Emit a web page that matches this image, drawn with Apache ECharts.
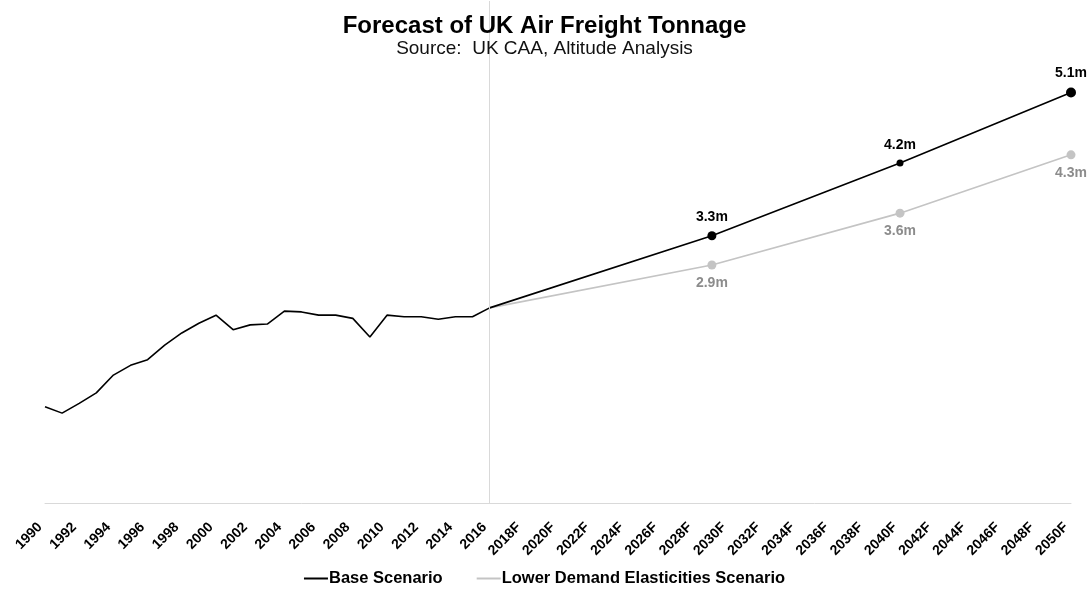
<!DOCTYPE html>
<html>
<head>
<meta charset="utf-8">
<script src="https://cdn.jsdelivr.net/npm/echarts@6/dist/echarts.min.js"></script>
<style>
html,body{margin:0;padding:0;background:#fff;}
#chart{width:1089px;height:594px;}
</style>
</head>
<body>
<div id="chart"></div>
<script>
// Categories
const histYears = [];
for (let y = 1990; y <= 2016; y++) histYears.push(String(y));
const forecastYears = [];
for (let y = 2017; y <= 2050; y++) forecastYears.push(y + 'F');
const categories = histYears.concat(forecastYears);

// Historical tonnage (millions), 1990-2016
const historical = [1.19,1.11,1.23,1.36,1.58,1.70,1.77,1.95,2.10,2.22,2.32,2.14,2.20,2.21,2.37,2.36,2.32,2.32,2.28,2.05,2.32,2.30,2.30,2.27,2.30,2.30,2.41];

// Forecast key points (as placed in the picture)
const forecastPoints = ['2029F','2040F','2050F'];
const baseForecast = [3.30, 4.20, 5.07];
const lowerForecast = [2.94, 3.58, 4.30];
const baseMarkerSizes = [9, 7, 10];
const startYear = '2016';

const FONT = '"Liberation Sans", Arial, sans-serif';

function buildBase() {
  const d = categories.map(() => null);
  historical.forEach((v, i) => { d[i] = v; });
  forecastPoints.forEach((c, k) => {
    const i = categories.indexOf(c);
    d[i] = { value: baseForecast[k], symbol: 'circle', symbolSize: baseMarkerSizes[k], label: { show: true } };
  });
  return d;
}
function buildLower() {
  const d = categories.map(() => null);
  d[categories.indexOf(startYear)] = historical[historical.length - 1];
  forecastPoints.forEach((c, k) => {
    const i = categories.indexOf(c);
    d[i] = { value: lowerForecast[k], symbol: 'circle', symbolSize: 9, label: { show: true } };
  });
  return d;
}

const chart = echarts.init(document.getElementById('chart'));
chart.setOption({
  animation: false,
  backgroundColor: '#fff',
  title: {
    text: 'Forecast of UK Air Freight Tonnage',
    subtext: 'Source:  UK CAA, Altitude Analysis',
    left: 'center',
    top: 9,
    itemGap: 1,
    textStyle: { fontFamily: FONT, fontSize: 24, fontWeight: 'bold', color: '#000' },
    subtextStyle: { fontFamily: FONT, fontSize: 19, color: '#111' }
  },
  legend: {
    bottom: 2,
    left: 'center',
    itemWidth: 24,
    itemHeight: 2,
    itemGap: 34,
    icon: 'rect',
    textStyle: { fontFamily: FONT, fontSize: 16.5, fontWeight: 'bold', color: '#000', padding: [0,0,0,-4] },
    data: ['Base Scenario', 'Lower Demand Elasticities Scenario']
  },
  grid: { left: 45, right: 18, top: 1, bottom: 91, containLabel: false },
  xAxis: {
    type: 'category',
    data: categories,
    boundaryGap: false,
    axisLine: { lineStyle: { color: '#d9d9d9', width: 1 } },
    axisTick: { show: false },
    axisLabel: { interval: 1, rotate: 45, fontFamily: FONT, fontSize: 14, fontWeight: 'bold', color: '#000', margin: 17, padding: [0, 7, 0, 0] }
  },
  yAxis: { type: 'value', min: 0, max: 6.2, show: false, splitLine: { show: false } },
  series: [
    {
      name: 'Base Scenario',
      type: 'line',
      data: buildBase(),
      connectNulls: true,
      symbol: 'none',
      color: '#000',
      lineStyle: { color: '#000', width: 1.6 },
      itemStyle: { color: '#000' },
      label: { show: false, position: 'top', distance: 7, fontFamily: FONT, fontSize: 14, fontWeight: 'bold', color: '#000', formatter: p => p.value.toFixed(1) + 'm' },
      markLine: {
        silent: true, symbol: 'none',
        lineStyle: { color: '#d9d9d9', width: 1, type: 'solid' },
        label: { show: false },
        data: [{ xAxis: startYear }]
      },
      z: 3
    },
    {
      name: 'Lower Demand Elasticities Scenario',
      type: 'line',
      data: buildLower(),
      connectNulls: true,
      symbol: 'none',
      color: '#c4c4c4',
      lineStyle: { color: '#c4c4c4', width: 1.6 },
      itemStyle: { color: '#c4c4c4' },
      label: { show: false, position: 'bottom', distance: 7, fontFamily: FONT, fontSize: 14, fontWeight: 'bold', color: '#8c8c8c', formatter: p => p.value.toFixed(1) + 'm' },
      z: 2
    }
  ]
});
</script>
</body>
</html>
